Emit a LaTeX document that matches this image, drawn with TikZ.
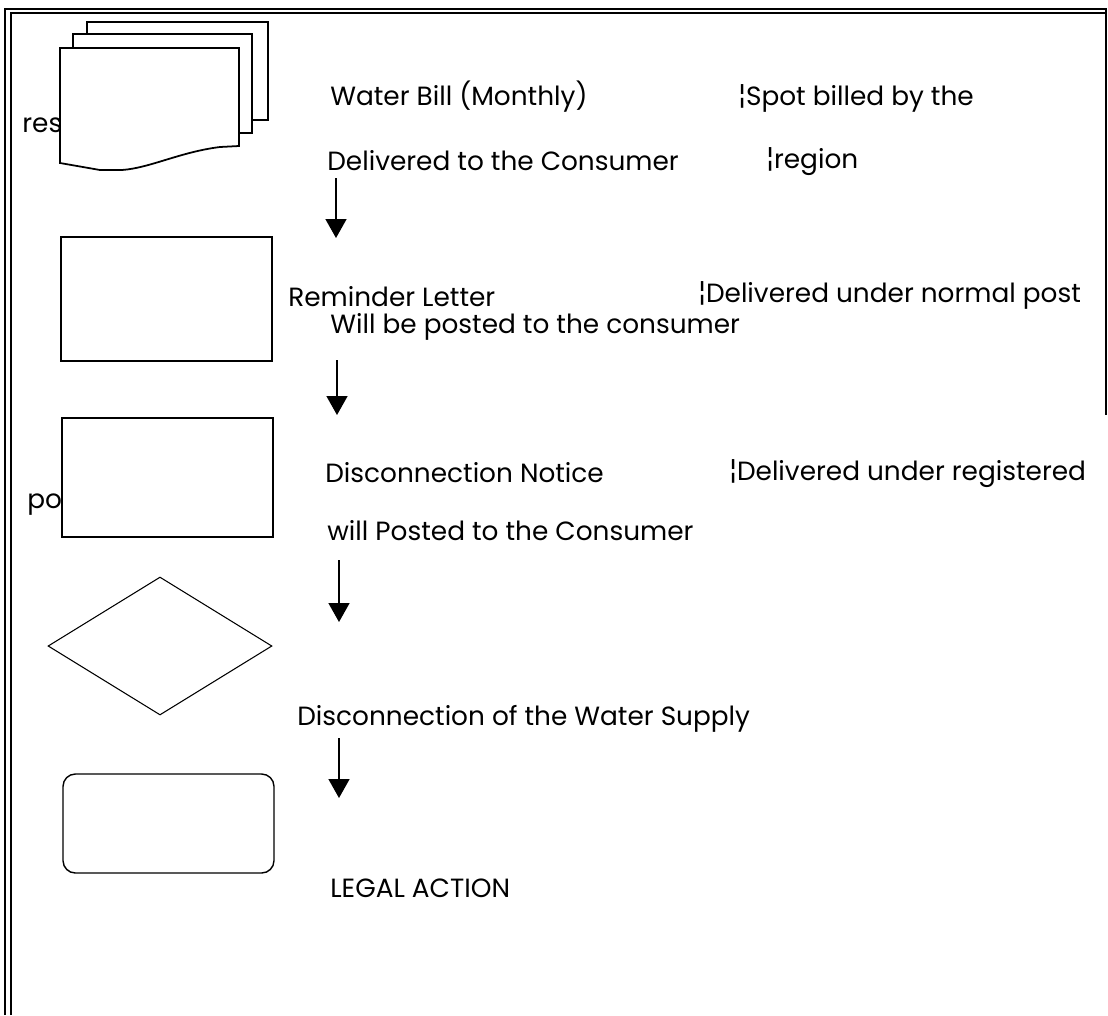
\documentclass[tikz,border=0pt]{standalone}
\usepackage{fontspec}
\setmainfont{Poppins}
\usetikzlibrary{shapes.geometric, arrows.meta, positioning}

\begin{document}
\begin{tikzpicture}[
  x=0.02cm, y=-0.02cm,
  box/.style={draw, line width=1pt, minimum width=4.22cm, minimum height=2.45cm, inner sep=0pt},
  decide/.style={draw, diamond, line width=0.6pt, minimum width=4.48cm, minimum height=2.76cm, inner sep=0pt},
  term/.style={draw, rounded corners=7pt, line width=0.8pt, minimum width=4.22cm, minimum height=1.98cm, inner sep=0pt},
  page/.style={draw, fill=white, line width=1pt, inner sep=0pt},
  txt/.style={anchor=base west, inner sep=0pt, font=\fontsize{15}{17}\selectfont},
  arr/.style={-{Triangle[width=0.42cm, length=0.38cm]}, line width=0.9pt},
  frame/.style={line width=1.2pt}
]
\useasboundingbox (0,0) rectangle (1108,1015);

% page frame
\draw[frame] (5,1015) -- (5,9) -- (1106,9) -- (1106,415);
\draw[frame] (11,1015) -- (11,13) -- (1106,13);

% document stack (monthly bill)
\node[txt] (restxt) at (22,132) {res};
\node[page, minimum width=3.62cm, minimum height=1.96cm] (billback) at (177.5,71) {};
\node[page, minimum width=3.58cm, minimum height=1.98cm] (billmid)  at (162.5,83.5) {};
\draw[page] (60,48) -- (239,48) -- (239,146) -- (220,147)
  .. controls (180,152) and (150,168) .. (122,170) -- (100,170) -- (60,163) -- cycle;

% flow symbols
\node[box, minimum height=2.48cm] (reminder) at (166.5,299) {};
\node[box, minimum height=2.38cm] (notice)   at (167.5,477.5) {};
\node[decide]                     (cutoff)   at (160,646) {};
\node[term]                       (legal)    at (168.5,823.5) {};
\node[txt] (potxt) at (27,508) {po};

% labels
\node[txt] (billlbl)   at (330,105) {Water Bill (Monthly)};
\node[txt] (spotlbl)   at (738,105) {¦Spot billed by the};
\node[txt] (dellbl)    at (327,170) {Delivered to the Consumer};
\node[txt] (regionlbl) at (766,168) {¦region};
\node[txt] (remlbl)    at (288,306) {Reminder Letter};
\node[txt] (normlbl)   at (698,302) {¦Delivered under normal post};
\node[txt] (postlbl)   at (330,333) {Will be posted to the consumer};
\node[txt] (noticelbl) at (325,482) {Disconnection Notice};
\node[txt] (reglbl)    at (729,480) {¦Delivered under registered};
\node[txt] (wplbl)     at (327,540) {will Posted to the Consumer};
\node[txt] (cutlbl)    at (297,725) {Disconnection of the Water Supply};
\node[txt] (legallbl)  at (330,897) {LEGAL ACTION};

% arrows
\coordinate (s1) at (336,178); \coordinate (e1) at (336,238);
\coordinate (s2) at (337,360); \coordinate (e2) at (337,415);
\coordinate (s3) at (339,560); \coordinate (e3) at (339,622);
\coordinate (s4) at (339,738); \coordinate (e4) at (339,798);
\draw[arr] (s1) -- (e1);
\draw[arr] (s2) -- (e2);
\draw[arr] (s3) -- (e3);
\draw[arr] (s4) -- (e4);
\end{tikzpicture}
\end{document}
